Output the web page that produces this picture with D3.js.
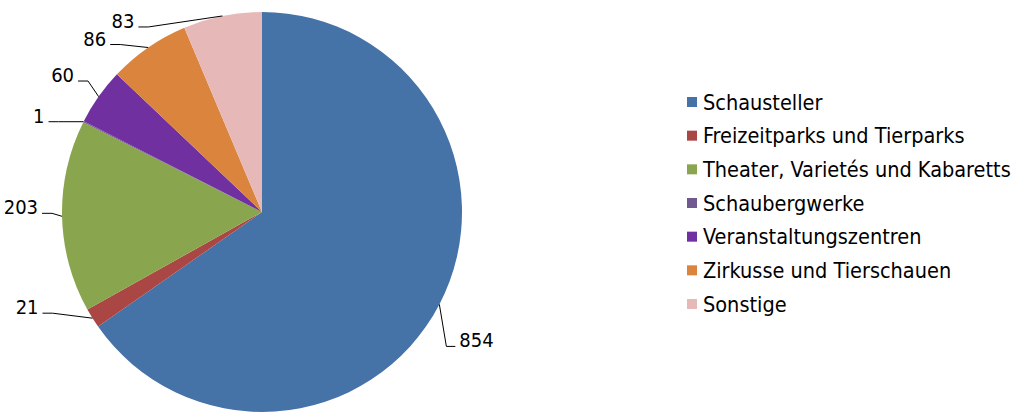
<!DOCTYPE html>
<html>
<head>
<meta charset="utf-8">
<script src="https://d3js.org/d3.v7.min.js"></script>
<style>
  body { margin: 0; background: #fff; }
  svg text { font-family: "DejaVu Sans Condensed", "DejaVu Sans", sans-serif; font-stretch: condensed; font-size: 21.5px; fill: #000; }
  svg text.val { font-size: 20px; }
</style>
</head>
<body>
<script>
// categories and values
var categories = ["Schausteller", "Freizeitparks und Tierparks", "Theater, Varietés und Kabaretts",
                  "Schaubergwerke", "Veranstaltungszentren", "Zirkusse und Tierschauen", "Sonstige"];
var values = [854, 21, 203, 1, 60, 86, 83];
var colors = ["#4572A7", "#AA4643", "#89A54E", "#71588F", "#7030A0", "#DB843D", "#E6B9B8"];
// where each leader line bends, relative to the point on the rim
var labelElbow = [[7, 42], [-40, -5], [-10, -3], [-25, 0], [-10.6, -15.6], [-28, -3], [-74, 11]];

var w = 1015, h = 413;
var cx = 262, cy = 212, r = 200;

var svg = d3.select("body").append("svg")
  .attr("width", w)
  .attr("height", h);

var pie = d3.pie().sort(null).value(function(d) { return d; });
var arcs = pie(values);
var arc = d3.arc().innerRadius(0).outerRadius(r);
var rim = d3.arc().innerRadius(r).outerRadius(r);

var g = svg.append("g").attr("transform", "translate(" + cx + "," + cy + ")");

g.selectAll("path.slice")
  .data(arcs)
  .enter()
  .append("path")
  .attr("class", "slice")
  .attr("d", arc)
  .attr("fill", function(d, i) { return colors[i]; });

// leader lines + labels
arcs.forEach(function(d, i) {
  var p = rim.centroid(d);
  var e = [p[0] + labelElbow[i][0], p[1] + labelElbow[i][1]];
  var right = p[0] > 0;
  var end = [e[0] + (right ? 9 : -10), e[1]];
  g.append("path")
    .attr("d", d3.line()([p, e, end]))
    .attr("fill", "none")
    .attr("stroke", "#000")
    .attr("stroke-width", 1);
  g.append("text")
    .attr("class", "val")
    .attr("x", end[0] + (right ? 4 : -4))
    .attr("y", end[1] + 1)
    .attr("text-anchor", right ? "start" : "end")
    .text(values[i]);
});

// legend
var legendY = d3.scalePoint().domain(categories).range([102, 304]);
var lg = svg.append("g").selectAll("g")
  .data(categories)
  .enter()
  .append("g")
  .attr("transform", function(d) { return "translate(687," + legendY(d) + ")"; });

lg.append("rect")
  .attr("x", 0).attr("y", -5)
  .attr("width", 10).attr("height", 10)
  .attr("fill", function(d, i) { return colors[i]; });

lg.append("text")
  .attr("x", 16)
  .attr("y", 0)
  .attr("dy", "0.35em")
  .text(function(d) { return d; });
</script>
</body>
</html>
